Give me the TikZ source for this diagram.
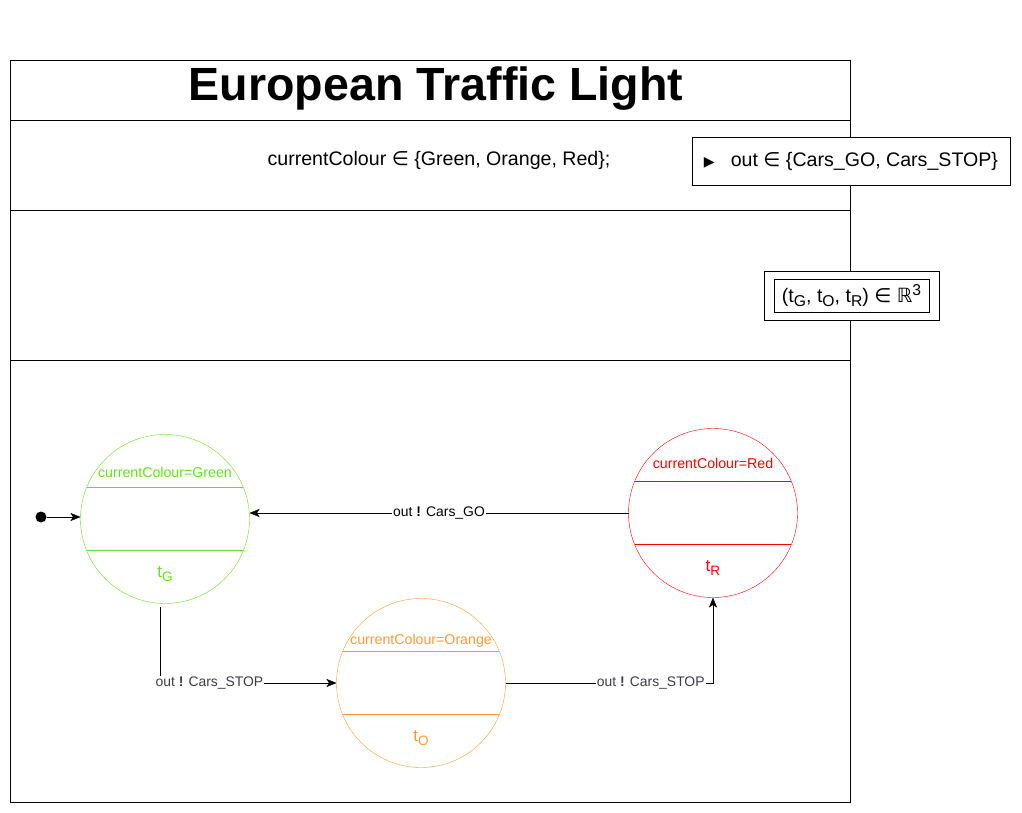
\documentclass[tikz,border=0pt]{standalone}
\usepackage{fontspec}
\setmainfont{Liberation Sans}
\newfontfamily\symfont{DejaVu Sans}
\usetikzlibrary{positioning,arrows.meta}
\definecolor{lightgreen}{HTML}{66DD22}
\definecolor{lightorange}{HTML}{FF9933}
\definecolor{labelgray}{HTML}{3C3C4C}
\tikzset{
	statecircle/.style={circle, minimum size=169pt, inner sep=0pt, outer sep=0pt},
	statetext/.style={font=\fontsize{14.2}{17}\selectfont, inner sep=0pt},
	timetext/.style={font=\fontsize{17}{19}\selectfont, inner sep=0pt},
	edgelabel/.style={font=\fontsize{13.9}{16}\selectfont, fill=white, inner sep=1pt, text=labelgray},
	declbox/.style={draw, fill=white, inner sep=0pt, font=\fontsize{19.6}{23}\selectfont},
	arr/.style={-{Stealth[length=10pt,width=8pt,inset=2.5pt]}}
}
\newcommand{\membersign}{{\symfont ∈}}
\newcommand{\lowsub}[1]{\raisebox{-0.35ex}{\scalebox{0.8}{#1}}}
\newcommand{\lightstate}[6]{\node[statecircle, draw=#3] (#1) at #2 {};
					\draw[#3] (#1.158) -- (#1.22);
					\draw[#3] (#1.202) -- (#1.338);
					\node[statetext, text=#3] (#1colour) at ([yshift=#6]#1.center) {#4};
					\node[timetext, text=#3] (#1time) at ([yshift=-55pt]#1.center) {#5};}

\begin{document}
\begin{tikzpicture}[x=1pt, y=-1pt]
				\useasboundingbox (0,0) rectangle (1022,813);
				
				% frame with its compartments
				\draw (10,60) rectangle (850,802);
				\draw (10,120) -- (850,120);
				\draw (10,210) -- (850,210);
				\draw (10,360) -- (850,360);
				
				\node[font=\bfseries\fontsize{46.6}{50}\selectfont] (title) at (436,89) {European Traffic Light};
				\node[font=\fontsize{19.6}{23}\selectfont] (attr) at (439,160) {currentColour \membersign{} \{Green, Orange, Red\};};
				
				\node[declbox, minimum width=318pt, minimum height=48pt] (outport) at (851,161)
					{{\symfont\fontsize{14}{15}\selectfont ▶}\hspace{16pt}out \membersign{} \{Cars\_GO, Cars\_STOP\}};
				
				\node[declbox, minimum width=175pt, minimum height=49pt] (paramsouter) at (851.5,295.5) {};
				\node[declbox, minimum width=155pt, minimum height=33pt] (params) at (851.5,295.5)
					{(t\lowsub{G}, t\lowsub{O}, t\lowsub{R}) \membersign{} {\symfont ℝ}\raisebox{0.7ex}{\scalebox{0.8}{3}}};
				
				% states
				\lightstate{green}{(165,519)}{lightgreen}{currentColour=Green}{t\lowsub{G}}{47pt}
				\lightstate{red}{(713,513)}{red}{currentColour=Red}{t\lowsub{R}}{50pt}
				\lightstate{orange}{(421,683)}{lightorange}{currentColour=Orange}{t\lowsub{O}}{42pt}
				
				% transitions
				\node[circle, fill, inner sep=0pt, minimum size=11pt] (init) at (41,517) {};
				\draw[arr] (init) -- (init -| green.west);
				
				\draw[arr] (red.west) -- (green.east |- red.west)
					node[edgelabel, midway, text=black] {out \textbf{!} Cars\_GO};
				
				\coordinate (greenexit) at (160,607);
				\draw[arr] (greenexit) |- (orange.west)
					node[edgelabel, pos=0.64] {out \textbf{!} Cars\_STOP};
				
				\draw[arr] (orange.east) -| (red.south)
					node[edgelabel, pos=0.35] {out \textbf{!} Cars\_STOP};
				
\end{tikzpicture}
\end{document}
